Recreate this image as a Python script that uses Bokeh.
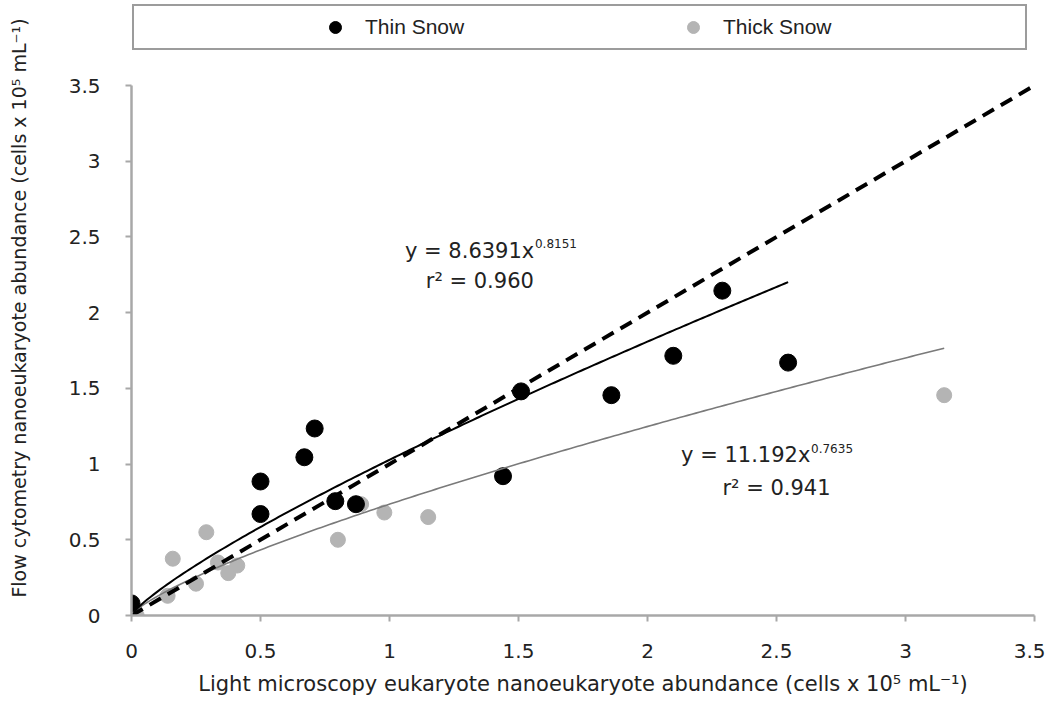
import numpy as np
from bokeh.plotting import figure
from bokeh.models import Range1d, FixedTicker, Label, Legend, LegendItem
from bokeh.embed import file_html
from bokeh.resources import INLINE

# ---------------- data ----------------
thin_x = [0.00, 0.50, 0.50, 0.67, 0.71, 0.79, 0.87, 1.44, 1.51, 1.86, 2.10, 2.29, 2.545]
thin_y = [0.08, 0.885, 0.67, 1.045, 1.235, 0.755, 0.735, 0.92, 1.48, 1.455, 1.715, 2.145, 1.67]

thick_x = [0.00, 0.01, 0.02, 0.14, 0.16, 0.25, 0.29, 0.335, 0.375, 0.41, 0.80, 0.89, 0.98, 1.15, 3.15]
thick_y = [0.01, 0.03, 0.00, 0.13, 0.375, 0.21, 0.55, 0.35, 0.28, 0.33, 0.50, 0.735, 0.68, 0.65, 1.455]

# power-law fits printed on the chart (raw units cells/mL, axes in 1e5 cells/mL)
thin_a, thin_b, thin_r2 = 8.6391, 0.8151, "0.960"
thick_a, thick_b, thick_r2 = 11.192, 0.7635, "0.941"
unit = 1e5
one_to_one = [0.0, 3.5]

ticks = [0, 0.5, 1, 1.5, 2, 2.5, 3, 3.5]
tick_labels = ["0", "0.5", "1", "1.5", "2", "2.5", "3", "3.5"]
axis_max = 3.5

series_names = ["Thin Snow", "Thick Snow"]
x_title = "Light microscopy eukaryote nanoeukaryote abundance (cells x 10\u2075 mL\u207b\u00b9)"
y_title = "Flow cytometry nanoeukaryote abundance (cells x 10\u2075 mL\u207b\u00b9)"

BLACK = "#000000"
GRAY = "#b4b4b4"
LINE_GRAY = "#7a7a7a"
AXIS = "#a8a8a8"
FONT = "DejaVu Sans"

# layout: plot frame spans the full height above the x axis so the legend box can sit inside it
W, H = 1045, 712
BOTTOM = 97          # pixels below the x axis
AXIS_TOP_PX = 85     # pixel row of y = 3.5
frame_h = H - BOTTOM
y_top = axis_max * frame_h / (frame_h - AXIS_TOP_PX)


def fit_curve(a, b, xs):
    lo, hi = max(min(xs), 0.01), max(xs)
    xx = np.linspace(lo, hi, 200)
    yy = a * (xx * unit) ** b / unit
    return xx, yy


# ---------------- main plot ----------------
p = figure(width=W, height=H, output_backend="svg", toolbar_location=None,
           x_range=Range1d(0, axis_max), y_range=Range1d(0, y_top),
           min_border_left=131, min_border_right=11, min_border_top=0, min_border_bottom=BOTTOM)
p.grid.visible = False
p.outline_line_color = None

r_thick = p.scatter(thick_x, thick_y, size=15, fill_color=GRAY, line_color=GRAY)
r_thin = p.scatter(thin_x, thin_y, size=17, fill_color=BLACK, line_color=BLACK)
# invisible renderer used only as legend spacer
r_blank = p.scatter(thick_x[:1], thick_y[:1], size=1, alpha=0)

tx, ty = fit_curve(thick_a, thick_b, thick_x)
p.line(tx, ty, line_color=LINE_GRAY, line_width=1.6)
nx, ny = fit_curve(thin_a, thin_b, thin_x)
p.line(nx, ny, line_color=BLACK, line_width=2)
p.line(one_to_one, one_to_one, line_color=BLACK, line_width=4, line_dash="13 8")

legend = Legend(
    items=[LegendItem(label=" ", renderers=[r_blank]),
           LegendItem(label=series_names[0], renderers=[r_thin]),
           LegendItem(label=" ", renderers=[r_blank]),
           LegendItem(label=series_names[1], renderers=[r_thick]),
           LegendItem(label=" ", renderers=[r_blank])],
    location=(1, frame_h - 50), orientation="horizontal", padding=6, margin=0, spacing=16,
    glyph_width=32, glyph_height=30, label_standoff=14, label_width=117,
    border_line_color="#3a3a3a", border_line_width=2, background_fill_color="white",
    background_fill_alpha=1,
    label_text_font="Liberation Sans", label_text_font_size="21px", label_text_color="#222222")
p.add_layout(legend, "center")

for ax in (p.xaxis[0], p.yaxis[0]):
    ax.ticker = FixedTicker(ticks=ticks)
    ax.bounds = (0, axis_max)
    ax.major_label_overrides = {t: s for t, s in zip(ticks, tick_labels)}
    ax.axis_line_color = AXIS
    ax.axis_line_width = 2.5
    ax.major_tick_line_color = AXIS
    ax.major_tick_line_width = 2
    ax.major_tick_in = 0
    ax.major_tick_out = 6
    ax.minor_tick_line_color = None
    ax.major_label_text_font = FONT
    ax.major_label_text_font_size = "20px"
    ax.major_label_text_color = "#222222"
    ax.axis_label_text_font = FONT
    ax.axis_label_text_font_style = "normal"
    ax.axis_label_text_color = "#222222"

p.xaxis.axis_label = x_title
p.yaxis.axis_label = y_title
p.xaxis.axis_label_text_font_size = "21px"
p.yaxis.axis_label_text_font_size = "19px"
p.xaxis.major_label_standoff = 22
p.xaxis.axis_label_standoff = 11
p.yaxis.major_label_standoff = 25
p.yaxis.axis_label_standoff = 36


def eq(x, y, a, b, sup_dx):
    p.add_layout(Label(x=x, y=y, text=f"y = {a}x", text_font=FONT, text_font_size="21px",
                       text_baseline="middle", text_align="left", text_color="#222222"))
    p.add_layout(Label(x=x, y=y, x_offset=sup_dx, y_offset=7, text=f"{b}", text_font=FONT,
                       text_font_size="12px", text_baseline="middle", text_align="left",
                       text_color="#222222"))


eq(1.06, 2.41, thin_a, thin_b, 130)
p.add_layout(Label(x=1.35, y=2.21, text=f"r\u00b2 = {thin_r2}", text_font=FONT, text_font_size="21px",
                   text_baseline="middle", text_align="center", text_color="#222222"))
eq(2.13, 1.057, thick_a, thick_b, 130)
p.add_layout(Label(x=2.50, y=0.845, text=f"r\u00b2 = {thick_r2}", text_font=FONT, text_font_size="21px",
                   text_baseline="middle", text_align="center", text_color="#222222"))

open("out.html", "w").write(file_html(p, INLINE))
